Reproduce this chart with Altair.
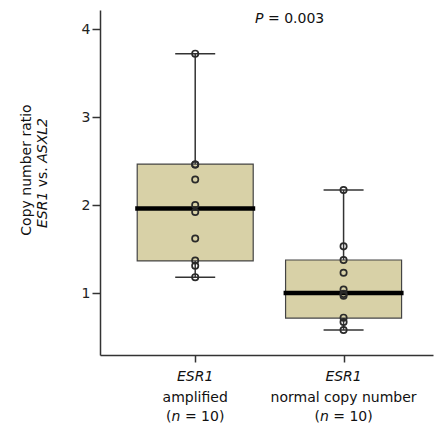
import altair as alt
import pandas as pd

# ---- data ----
groups = [1, 2]
group_line1 = ["ESR1", "ESR1"]
group_line2 = ["amplified", "normal copy number"]

amplified_values = [3.72, 2.46, 2.46, 2.29, 2.00, 1.92, 1.62, 1.37, 1.31, 1.18]
normal_values = [2.17, 1.53, 1.375, 1.23, 1.04, 0.99, 0.97, 0.72, 0.67, 0.58]

box_lo = [1.18, 0.58]
box_q1 = [1.365, 0.715]
box_med = [1.96, 1.00]
box_q3 = [2.465, 1.375]
box_hi = [3.72, 2.17]

y_ticks = [1, 2, 3, 4]
p_text = "= 0.003"

FONT = "DejaVu Sans"
DARK = "#333333"
FILL = "#d8d1a7"

stats = pd.DataFrame({
    "grp": groups, "lo": box_lo, "q1": box_q1, "med": box_med,
    "q3": box_q3, "hi": box_hi, "l1": group_line1, "l2": group_line2,
})
pts = pd.DataFrame({
    "grp": [1] * len(amplified_values) + [2] * len(normal_values),
    "value": amplified_values + normal_values,
})
one = pd.DataFrame({"k": [0]})

xs = alt.Scale(domain=[0.392, 2.569], nice=False, zero=False)
ys = alt.Scale(domain=[0.2955, 4.216], nice=False, zero=False)

xaxis = alt.Axis(values=groups, labels=False, title=None, grid=False,
                 tickSize=7, tickWidth=1.5, tickColor=DARK,
                 domainColor=DARK, domainWidth=1.5)
yaxis = alt.Axis(values=y_ticks, format="d", title=None, grid=False, tickSize=8,
                 tickWidth=1.5, tickColor=DARK, domainColor=DARK,
                 domainWidth=1.5, labelFont=FONT, labelFontSize=14,
                 labelColor="#222222", labelPadding=2)

base = alt.Chart(stats)

whisker = base.mark_rule(color=DARK, strokeWidth=1.5, opacity=1).encode(
    x=alt.X("grp:Q", scale=xs, axis=xaxis),
    y=alt.Y("lo:Q", scale=ys, axis=yaxis),
    y2="hi:Q",
)
cap_lo = base.mark_tick(orient="horizontal", size=40, thickness=1.5, color=DARK, opacity=1).encode(
    x=alt.X("grp:Q", scale=xs), y=alt.Y("lo:Q", scale=ys))
cap_hi = base.mark_tick(orient="horizontal", size=40, thickness=1.5, color=DARK, opacity=1).encode(
    x=alt.X("grp:Q", scale=xs), y=alt.Y("hi:Q", scale=ys))
box = base.mark_bar(size=116, fill=FILL, stroke="#444444", strokeWidth=1.2, opacity=1).encode(
    x=alt.X("grp:Q", scale=xs), y=alt.Y("q1:Q", scale=ys), y2="q3:Q")
median = base.mark_tick(orient="horizontal", size=120, thickness=4.5, color="#000000", opacity=1).encode(
    x=alt.X("grp:Q", scale=xs), y=alt.Y("med:Q", scale=ys))
points = alt.Chart(pts).mark_point(filled=False, size=40, stroke="#2a2a2a", strokeWidth=1.7,
                                   opacity=1).encode(
    x=alt.X("grp:Q", scale=xs), y=alt.Y("value:Q", scale=ys))

# x category labels (below the axis)
lab1 = base.mark_text(font=FONT, fontSize=14, fontStyle="italic", color="#111111",
                      baseline="middle").encode(
    x=alt.X("grp:Q", scale=xs), y=alt.value(367), text="l1:N")
lab2 = base.mark_text(font=FONT, fontSize=14, color="#111111", baseline="middle").encode(
    x=alt.X("grp:Q", scale=xs), y=alt.value(388), text="l2:N")
lab3a = base.mark_text(font=FONT, fontSize=14, color="#111111", baseline="middle",
                       align="left", dx=-29.1).encode(
    x=alt.X("grp:Q", scale=xs), y=alt.value(407), text=alt.value("("))
lab3b = base.mark_text(font=FONT, fontSize=14, fontStyle="italic", color="#111111",
                       baseline="middle", align="left", dx=-23.6).encode(
    x=alt.X("grp:Q", scale=xs), y=alt.value(407), text=alt.value("n"))
lab3c = base.mark_text(font=FONT, fontSize=14, color="#111111", baseline="middle",
                       align="left", dx=-10.3).encode(
    x=alt.X("grp:Q", scale=xs), y=alt.value(407), text=alt.value("= 10)"))

# P value
ob = alt.Chart(one)
p1 = ob.mark_text(font=FONT, fontSize=14, fontStyle="italic", color="#111111",
                  baseline="middle", align="left").encode(
    x=alt.value(155), y=alt.value(8.5), text=alt.value("P"))
p2 = ob.mark_text(font=FONT, fontSize=14, color="#111111",
                  baseline="middle", align="left").encode(
    x=alt.value(168), y=alt.value(8.5), text=alt.value(p_text))

# y title (two rotated lines, mixed italic)
t1 = ob.mark_text(font=FONT, fontSize=14, color="#111111", angle=270,
                  baseline="middle", align="center").encode(
    x=alt.value(-73), y=alt.value(160), text=alt.value("Copy number ratio"))
t2a = ob.mark_text(font=FONT, fontSize=14, fontStyle="italic", color="#111111", angle=270,
                   baseline="middle", align="left", dx=-55).encode(
    x=alt.value(-57), y=alt.value(163), text=alt.value("ESR1"))
t2b = ob.mark_text(font=FONT, fontSize=14, color="#111111", angle=270,
                   baseline="middle", align="center", dx=-4.2).encode(
    x=alt.value(-57), y=alt.value(163), text=alt.value("vs."))
t2c = ob.mark_text(font=FONT, fontSize=14, fontStyle="italic", color="#111111", angle=270,
                   baseline="middle", align="right", dx=55).encode(
    x=alt.value(-57), y=alt.value(163), text=alt.value("ASXL2"))

chart = alt.layer(
    whisker, cap_lo, cap_hi, box, median, points,
    lab1, lab2, lab3a, lab3b, lab3c, p1, p2, t1, t2a, t2b, t2c,
).properties(
    width=333, height=345,
    padding={"left": 92, "top": 2, "right": 4, "bottom": 70},
    autosize="none",
    background="white",
).configure_view(stroke=None)

chart.save("out.html", embed_options={"renderer": "svg", "actions": False})
